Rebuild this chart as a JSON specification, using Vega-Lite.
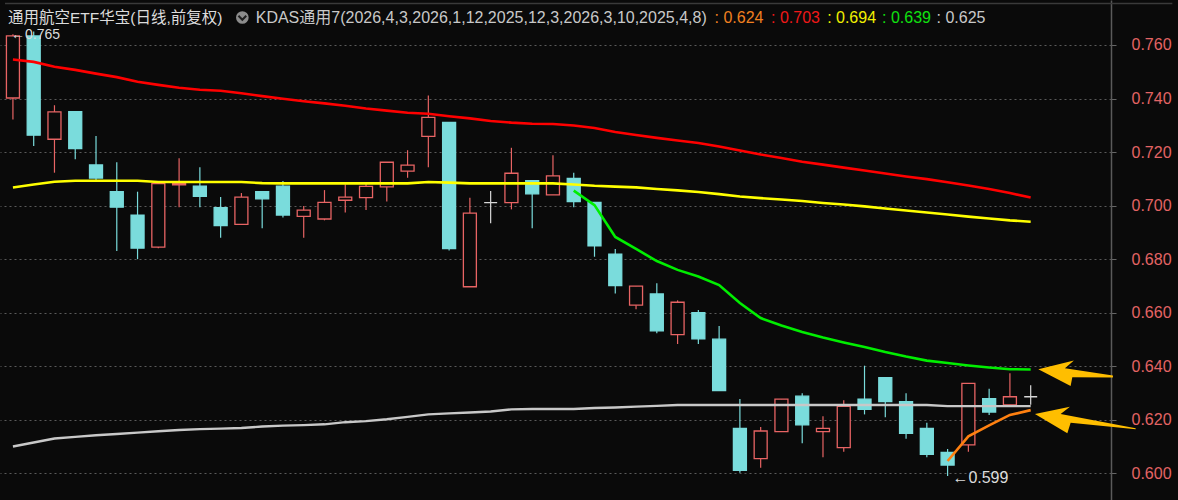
{
  "$schema": "https://vega.github.io/schema/vega-lite/v6.json",
  "width": 1111,
  "height": 500,
  "autosize": {"type": "none"},
  "padding": {"left": 0, "top": 0, "right": 67, "bottom": 0},
  "background": "#0a0a0a",
  "view": {"stroke": null},
  "config": {"font": "'Liberation Sans', 'Noto Sans CJK SC', sans-serif"},
  "data": {"values": [
    {"i":0,"open":0.7402,"high":0.7640,"low":0.7322,"close":0.7634,"v0403":null,"v0112":0.7546,"v1203":0.7068,"v0310":null,"v0408":0.6100},
    {"i":1,"open":0.7634,"high":0.7650,"low":0.7223,"close":0.7263,"v0403":null,"v0112":0.7537,"v1203":0.7079,"v0310":null,"v0408":0.6115},
    {"i":2,"open":0.7248,"high":0.7375,"low":0.7123,"close":0.7350,"v0403":null,"v0112":0.7519,"v1203":0.7089,"v0310":null,"v0408":0.6130},
    {"i":3,"open":0.7351,"high":0.7351,"low":0.7173,"close":0.7213,"v0403":null,"v0112":0.7507,"v1203":0.7093,"v0310":null,"v0408":0.6136},
    {"i":4,"open":0.7152,"high":0.7260,"low":0.7096,"close":0.7103,"v0403":null,"v0112":0.7493,"v1203":0.7093,"v0310":null,"v0408":0.6142},
    {"i":5,"open":0.7052,"high":0.7162,"low":0.6830,"close":0.6994,"v0403":null,"v0112":0.7480,"v1203":0.7093,"v0310":null,"v0408":0.6147},
    {"i":6,"open":0.6964,"high":0.7052,"low":0.6800,"close":0.6841,"v0403":null,"v0112":0.7463,"v1203":0.7093,"v0310":null,"v0408":0.6152},
    {"i":7,"open":0.6845,"high":0.7082,"low":0.6841,"close":0.7082,"v0403":null,"v0112":0.7451,"v1203":0.7088,"v0310":null,"v0408":0.6157},
    {"i":8,"open":0.7078,"high":0.7177,"low":0.6994,"close":0.7083,"v0403":null,"v0112":0.7440,"v1203":0.7088,"v0310":null,"v0408":0.6162},
    {"i":9,"open":0.7073,"high":0.7143,"low":0.6994,"close":0.7035,"v0403":null,"v0112":0.7433,"v1203":0.7088,"v0310":null,"v0408":0.6165},
    {"i":10,"open":0.6992,"high":0.7032,"low":0.6880,"close":0.6925,"v0403":null,"v0112":0.7429,"v1203":0.7088,"v0310":null,"v0408":0.6167},
    {"i":11,"open":0.6930,"high":0.7047,"low":0.6930,"close":0.7032,"v0403":null,"v0112":0.7420,"v1203":0.7088,"v0310":null,"v0408":0.6169},
    {"i":12,"open":0.7052,"high":0.7052,"low":0.6915,"close":0.7025,"v0403":null,"v0112":0.7409,"v1203":0.7084,"v0310":null,"v0408":0.6175},
    {"i":13,"open":0.7073,"high":0.7092,"low":0.6956,"close":0.6965,"v0403":null,"v0112":0.7399,"v1203":0.7083,"v0310":null,"v0408":0.6178},
    {"i":14,"open":0.6960,"high":0.6999,"low":0.6880,"close":0.6983,"v0403":null,"v0112":0.7390,"v1203":0.7083,"v0310":null,"v0408":0.6180},
    {"i":15,"open":0.6950,"high":0.7058,"low":0.6945,"close":0.7012,"v0403":null,"v0112":0.7382,"v1203":0.7083,"v0310":null,"v0408":0.6183},
    {"i":16,"open":0.7020,"high":0.7080,"low":0.6974,"close":0.7032,"v0403":null,"v0112":0.7373,"v1203":0.7083,"v0310":null,"v0408":0.6191},
    {"i":17,"open":0.7030,"high":0.7085,"low":0.6984,"close":0.7072,"v0403":null,"v0112":0.7363,"v1203":0.7083,"v0310":null,"v0408":0.6195},
    {"i":18,"open":0.7070,"high":0.7162,"low":0.7015,"close":0.7162,"v0403":null,"v0112":0.7355,"v1203":0.7083,"v0310":null,"v0408":0.6202},
    {"i":19,"open":0.7129,"high":0.7207,"low":0.7104,"close":0.7151,"v0403":null,"v0112":0.7347,"v1203":0.7083,"v0310":null,"v0408":0.6211},
    {"i":20,"open":0.7259,"high":0.7411,"low":0.7143,"close":0.7330,"v0403":null,"v0112":0.7343,"v1203":0.7088,"v0310":null,"v0408":0.6220},
    {"i":21,"open":0.7311,"high":0.7311,"low":0.6832,"close":0.6839,"v0403":null,"v0112":0.7334,"v1203":0.7086,"v0310":null,"v0408":0.6224},
    {"i":22,"open":0.6697,"high":0.7029,"low":0.6697,"close":0.6972,"v0403":null,"v0112":0.7326,"v1203":0.7083,"v0310":null,"v0408":0.6227},
    {"i":23,"open":0.7011,"high":0.7055,"low":0.6934,"close":0.7011,"v0403":null,"v0112":0.7316,"v1203":0.7083,"v0310":null,"v0408":0.6231},
    {"i":24,"open":0.7011,"high":0.7216,"low":0.6986,"close":0.7121,"v0403":null,"v0112":0.7310,"v1203":0.7083,"v0310":null,"v0408":0.6239},
    {"i":25,"open":0.7093,"high":0.7093,"low":0.6915,"close":0.7044,"v0403":null,"v0112":0.7306,"v1203":0.7083,"v0310":null,"v0408":0.6240},
    {"i":26,"open":0.7040,"high":0.7188,"low":0.7040,"close":0.7111,"v0403":null,"v0112":0.7305,"v1203":0.7083,"v0310":null,"v0408":0.6240},
    {"i":27,"open":0.7102,"high":0.7123,"low":0.6994,"close":0.7015,"v0403":null,"v0112":0.7299,"v1203":0.7079,"v0310":0.7056,"v0408":0.6240},
    {"i":28,"open":0.7012,"high":0.7012,"low":0.6809,"close":0.6850,"v0403":null,"v0112":0.7290,"v1203":0.7074,"v0310":0.7002,"v0408":0.6244},
    {"i":29,"open":0.6819,"high":0.6838,"low":0.6672,"close":0.6701,"v0403":null,"v0112":0.7275,"v1203":0.7071,"v0310":0.6883,"v0408":0.6246},
    {"i":30,"open":0.6628,"high":0.6699,"low":0.6613,"close":0.6699,"v0403":null,"v0112":0.7264,"v1203":0.7068,"v0310":0.6838,"v0408":0.6249},
    {"i":31,"open":0.6670,"high":0.6710,"low":0.6523,"close":0.6532,"v0403":null,"v0112":0.7253,"v1203":0.7062,"v0310":0.6793,"v0408":0.6252},
    {"i":32,"open":0.6518,"high":0.6646,"low":0.6483,"close":0.6639,"v0403":null,"v0112":0.7243,"v1203":0.7057,"v0310":0.6760,"v0408":0.6255},
    {"i":33,"open":0.6600,"high":0.6610,"low":0.6483,"close":0.6502,"v0403":null,"v0112":0.7234,"v1203":0.7051,"v0310":0.6735,"v0408":0.6255},
    {"i":34,"open":0.6501,"high":0.6550,"low":0.6309,"close":0.6309,"v0403":null,"v0112":0.7221,"v1203":0.7043,"v0310":0.6703,"v0408":0.6255},
    {"i":35,"open":0.6168,"high":0.6278,"low":0.6002,"close":0.6011,"v0403":null,"v0112":0.7206,"v1203":0.7034,"v0310":0.6636,"v0408":0.6255},
    {"i":36,"open":0.6055,"high":0.6173,"low":0.6021,"close":0.6158,"v0403":null,"v0112":0.7191,"v1203":0.7028,"v0310":0.6580,"v0408":0.6255},
    {"i":37,"open":0.6156,"high":0.6277,"low":0.6156,"close":0.6277,"v0403":null,"v0112":0.7178,"v1203":0.7023,"v0310":0.6552,"v0408":0.6255},
    {"i":38,"open":0.6288,"high":0.6299,"low":0.6112,"close":0.6181,"v0403":null,"v0112":0.7164,"v1203":0.7017,"v0310":0.6528,"v0408":0.6255},
    {"i":39,"open":0.6156,"high":0.6213,"low":0.6060,"close":0.6168,"v0403":null,"v0112":0.7153,"v1203":0.7010,"v0310":0.6507,"v0408":0.6255},
    {"i":40,"open":0.6096,"high":0.6273,"low":0.6081,"close":0.6250,"v0403":null,"v0112":0.7142,"v1203":0.7004,"v0310":0.6489,"v0408":0.6255},
    {"i":41,"open":0.6277,"high":0.6402,"low":0.6220,"close":0.6239,"v0403":null,"v0112":0.7131,"v1203":0.6997,"v0310":0.6472,"v0408":0.6255},
    {"i":42,"open":0.6357,"high":0.6357,"low":0.6209,"close":0.6268,"v0403":null,"v0112":0.7120,"v1203":0.6989,"v0310":0.6453,"v0408":0.6255},
    {"i":43,"open":0.6268,"high":0.6299,"low":0.6129,"close":0.6149,"v0403":null,"v0112":0.7109,"v1203":0.6982,"v0310":0.6436,"v0408":0.6255},
    {"i":44,"open":0.6168,"high":0.6189,"low":0.6060,"close":0.6071,"v0403":null,"v0112":0.7099,"v1203":0.6974,"v0310":0.6421,"v0408":0.6255},
    {"i":45,"open":0.6078,"high":0.6091,"low":0.5990,"close":0.6031,"v0403":0.6046,"v0112":0.7087,"v1203":0.6967,"v0310":0.6412,"v0408":0.6251},
    {"i":46,"open":0.6106,"high":0.6336,"low":0.6081,"close":0.6336,"v0403":0.6138,"v0112":0.7075,"v1203":0.6959,"v0310":0.6403,"v0408":0.6251},
    {"i":47,"open":0.6279,"high":0.6316,"low":0.6218,"close":0.6229,"v0403":0.6179,"v0112":0.7062,"v1203":0.6952,"v0310":0.6395,"v0408":0.6251},
    {"i":48,"open":0.6256,"high":0.6374,"low":0.6256,"close":0.6286,"v0403":0.6218,"v0112":0.7047,"v1203":0.6945,"v0310":0.6389,"v0408":0.6251},
    {"i":49,"open":0.6286,"high":0.6329,"low":0.6256,"close":0.6286,"v0403":0.6236,"v0112":0.7030,"v1203":0.6940,"v0310":0.6388,"v0408":0.6251}
  ]},
  "layer": [
    {
      "mark": {"type": "rule", "strokeWidth": 1.2},
      "encoding": {
        "x": {"field": "i", "type": "quantitative", "axis": null, "scale": {"domain": [-0.3817, 52.626], "nice": false, "zero": false}},
        "y": {"field": "low", "type": "quantitative", "scale": {"domain": [0.59003, 0.77681], "nice": false, "zero": false},
          "axis": {
            "orient": "right", "title": null,
            "values": [0.60,0.61,0.62,0.63,0.64,0.65,0.66,0.67,0.68,0.69,0.70,0.71,0.72,0.73,0.74,0.75,0.76],
            "format": ".3f",
            "labelExpr": "(round(datum.value*100) % 2 == 0) ? datum.label : ''",
            "labelColor": "#E36464", "labelFont": "Liberation Sans", "labelFontSize": 16, "labelPadding": 15,
            "labelBaseline": "middle", "labelOverlap": false, "labelFlush": false,
            "domainColor": "#5a5a5a", "domainWidth": 1.5,
            "tickColor": "#666666", "tickWidth": 1, "tickSize": 5,
            "grid": true, "gridColor": "#5a5a5a", "gridDash": [2, 3], "gridWidth": 1,
            "gridOpacity": {"condition": {"test": "round(datum.value*100) % 2 == 0", "value": 1}, "value": 0}
          }},
        "y2": {"field": "high"},
        "color": {"condition": [{"test": "datum.close > datum.open", "value": "#E86464"}, {"test": "datum.close < datum.open", "value": "#7ADCDC"}], "value": "#D8D8D8"}
      }
    },
    {
      "mark": {"type": "bar", "width": 13, "strokeWidth": 1.3},
      "encoding": {
        "x": {"field": "i", "type": "quantitative", "axis": null, "scale": {"domain": [-0.3817, 52.626], "nice": false, "zero": false}},
        "y": {"field": "open", "type": "quantitative", "scale": {"domain": [0.59003, 0.77681], "nice": false, "zero": false}},
        "y2": {"field": "close"},
        "stroke": {"condition": [{"test": "datum.close > datum.open", "value": "#E86464"}, {"test": "datum.close < datum.open", "value": "#7ADCDC"}], "value": "#D8D8D8"},
        "fill": {"condition": [{"test": "datum.close > datum.open", "value": "#0a0a0a"}, {"test": "datum.close < datum.open", "value": "#7ADCDC"}], "value": "#D8D8D8"}
      }
    },
    {
      "mark": {"type": "line", "color": "#C8C8C8", "strokeWidth": 2.4},
      "encoding": {
        "x": {"field": "i", "type": "quantitative", "axis": null, "scale": {"domain": [-0.3817, 52.626], "nice": false, "zero": false}},
        "y": {"field": "v0408", "type": "quantitative", "scale": {"domain": [0.59003, 0.77681], "nice": false, "zero": false}}
      }
    },
    {
      "mark": {"type": "line", "color": "#FFFF00", "strokeWidth": 2.6},
      "encoding": {
        "x": {"field": "i", "type": "quantitative", "axis": null, "scale": {"domain": [-0.3817, 52.626], "nice": false, "zero": false}},
        "y": {"field": "v1203", "type": "quantitative", "scale": {"domain": [0.59003, 0.77681], "nice": false, "zero": false}}
      }
    },
    {
      "mark": {"type": "line", "color": "#FF0000", "strokeWidth": 2.6},
      "encoding": {
        "x": {"field": "i", "type": "quantitative", "axis": null, "scale": {"domain": [-0.3817, 52.626], "nice": false, "zero": false}},
        "y": {"field": "v0112", "type": "quantitative", "scale": {"domain": [0.59003, 0.77681], "nice": false, "zero": false}}
      }
    },
    {
      "mark": {"type": "line", "color": "#00EE00", "strokeWidth": 2.6},
      "encoding": {
        "x": {"field": "i", "type": "quantitative", "axis": null, "scale": {"domain": [-0.3817, 52.626], "nice": false, "zero": false}},
        "y": {"field": "v0310", "type": "quantitative", "scale": {"domain": [0.59003, 0.77681], "nice": false, "zero": false}}
      }
    },
    {
      "mark": {"type": "line", "color": "#FF8010", "strokeWidth": 2.6},
      "encoding": {
        "x": {"field": "i", "type": "quantitative", "axis": null, "scale": {"domain": [-0.3817, 52.626], "nice": false, "zero": false}},
        "y": {"field": "v0403", "type": "quantitative", "scale": {"domain": [0.59003, 0.77681], "nice": false, "zero": false}}
      }
    },
    {
      "data": {"values": [{}]},
      "mark": {"type": "text", "text": "←0.765", "align": "left", "baseline": "alphabetic", "fontSize": 14, "color": "#DCDCDC", "font": "Liberation Sans"},
      "encoding": {
        "x": {"datum": -0.095, "type": "quantitative", "axis": null, "scale": {"domain": [-0.3817, 52.626], "nice": false, "zero": false}},
        "y": {"datum": 0.76224, "type": "quantitative", "scale": {"domain": [0.59003, 0.77681], "nice": false, "zero": false}}
      }
    },
    {
      "data": {"values": [{}]},
      "mark": {"type": "rule", "color": "#3a3a3a", "strokeWidth": 1.5},
      "encoding": {
        "x": {"datum": -0.3817, "type": "quantitative", "axis": null, "scale": {"domain": [-0.3817, 52.626], "nice": false, "zero": false}},
        "x2": {"datum": 55.82},
        "y": {"datum": 0.7755, "type": "quantitative", "scale": {"domain": [0.59003, 0.77681], "nice": false, "zero": false}}
      }
    },
    {
      "data": {"values": [{}]},
      "mark": {"type": "text", "text": "通用航空ETF华宝(日线,前复权)", "align": "left", "baseline": "alphabetic", "fontSize": 15.5, "color": "#DCDCDC", "font": "'Liberation Sans', 'Noto Sans CJK SC', sans-serif"},
      "encoding": {
        "x": {"datum": -0.2386, "type": "quantitative", "axis": null, "scale": {"domain": [-0.3817, 52.626], "nice": false, "zero": false}},
        "y": {"datum": 0.768218, "type": "quantitative", "scale": {"domain": [0.59003, 0.77681], "nice": false, "zero": false}}
      }
    },
    {
      "data": {"values": [{}]},
      "mark": {"type": "point", "shape": "circle", "size": 160, "filled": true, "color": "#8C8C8C", "opacity": 1},
      "encoding": {
        "x": {"datum": 11.0452, "type": "quantitative", "axis": null, "scale": {"domain": [-0.3817, 52.626], "nice": false, "zero": false}},
        "y": {"datum": 0.770273, "type": "quantitative", "scale": {"domain": [0.59003, 0.77681], "nice": false, "zero": false}}
      }
    },
    {
      "data": {"values": [{}]},
      "mark": {"type": "point", "shape": "M-0.35,-0.15 L0,0.2 L0.35,-0.15", "size": 500, "filled": false, "stroke": "#202020", "strokeWidth": 2, "opacity": 1},
      "encoding": {
        "x": {"datum": 11.0452, "type": "quantitative", "axis": null, "scale": {"domain": [-0.3817, 52.626], "nice": false, "zero": false}},
        "y": {"datum": 0.770273, "type": "quantitative", "scale": {"domain": [0.59003, 0.77681], "nice": false, "zero": false}}
      }
    },
    {
      "data": {"values": [{}]},
      "mark": {"type": "text", "text": "KDAS通用7(2026,4,3,2026,1,12,2025,12,3,2026,3,10,2025,4,8)", "align": "left", "baseline": "alphabetic", "fontSize": 16, "color": "#C8C8C8", "font": "'Liberation Sans', 'Noto Sans CJK SC', sans-serif"},
      "encoding": {
        "x": {"datum": 11.6894, "type": "quantitative", "axis": null, "scale": {"domain": [-0.3817, 52.626], "nice": false, "zero": false}},
        "y": {"datum": 0.768218, "type": "quantitative", "scale": {"domain": [0.59003, 0.77681], "nice": false, "zero": false}}
      }
    },
    {
      "data": {"values": [{}]},
      "mark": {"type": "text", "text": ": 0.624", "align": "left", "baseline": "alphabetic", "fontSize": 16, "color": "#F08020", "font": "Liberation Sans"},
      "encoding": {
        "x": {"datum": 33.7802, "type": "quantitative", "axis": null, "scale": {"domain": [-0.3817, 52.626], "nice": false, "zero": false}},
        "y": {"datum": 0.768218, "type": "quantitative", "scale": {"domain": [0.59003, 0.77681], "nice": false, "zero": false}}
      }
    },
    {
      "data": {"values": [{}]},
      "mark": {"type": "text", "text": ": 0.703", "align": "left", "baseline": "alphabetic", "fontSize": 16, "color": "#F01818", "font": "Liberation Sans"},
      "encoding": {
        "x": {"datum": 36.5, "type": "quantitative", "axis": null, "scale": {"domain": [-0.3817, 52.626], "nice": false, "zero": false}},
        "y": {"datum": 0.768218, "type": "quantitative", "scale": {"domain": [0.59003, 0.77681], "nice": false, "zero": false}}
      }
    },
    {
      "data": {"values": [{}]},
      "mark": {"type": "text", "text": ": 0.694", "align": "left", "baseline": "alphabetic", "fontSize": 16, "color": "#F0F000", "font": "Liberation Sans"},
      "encoding": {
        "x": {"datum": 39.2, "type": "quantitative", "axis": null, "scale": {"domain": [-0.3817, 52.626], "nice": false, "zero": false}},
        "y": {"datum": 0.768218, "type": "quantitative", "scale": {"domain": [0.59003, 0.77681], "nice": false, "zero": false}}
      }
    },
    {
      "data": {"values": [{}]},
      "mark": {"type": "text", "text": ": 0.639", "align": "left", "baseline": "alphabetic", "fontSize": 16, "color": "#10E010", "font": "Liberation Sans"},
      "encoding": {
        "x": {"datum": 41.8431, "type": "quantitative", "axis": null, "scale": {"domain": [-0.3817, 52.626], "nice": false, "zero": false}},
        "y": {"datum": 0.768218, "type": "quantitative", "scale": {"domain": [0.59003, 0.77681], "nice": false, "zero": false}}
      }
    },
    {
      "data": {"values": [{}]},
      "mark": {"type": "text", "text": ": 0.625", "align": "left", "baseline": "alphabetic", "fontSize": 16, "color": "#C8C8C8", "font": "Liberation Sans"},
      "encoding": {
        "x": {"datum": 44.4672, "type": "quantitative", "axis": null, "scale": {"domain": [-0.3817, 52.626], "nice": false, "zero": false}},
        "y": {"datum": 0.768218, "type": "quantitative", "scale": {"domain": [0.59003, 0.77681], "nice": false, "zero": false}}
      }
    },
    {
      "data": {"values": [{}]},
      "mark": {"type": "text", "text": "←0.599", "align": "left", "baseline": "alphabetic", "fontSize": 16, "color": "#DCDCDC", "font": "Liberation Sans"},
      "encoding": {
        "x": {"datum": 45.23, "type": "quantitative", "axis": null, "scale": {"domain": [-0.3817, 52.626], "nice": false, "zero": false}},
        "y": {"datum": 0.59627, "type": "quantitative", "scale": {"domain": [0.59003, 0.77681], "nice": false, "zero": false}}
      }
    },
    {
      "data": {"values": [{}]},
      "mark": {"type": "point", "shape": "M0,0 L0.712,-0.172 L0.532,-0.02 L1.492,0.126 L1.492,0.166 L0.68,0.16 L0.646,0.334 Z", "size": 10000, "filled": true, "color": "#FFBE00", "opacity": 1, "strokeWidth": 0},
      "encoding": {
        "x": {"datum": 49.3673, "type": "quantitative", "axis": null, "scale": {"domain": [-0.3817, 52.626], "nice": false, "zero": false}},
        "y": {"datum": 0.63889, "type": "quantitative", "scale": {"domain": [0.59003, 0.77681], "nice": false, "zero": false}}
      }
    },
    {
      "data": {"values": [{}]},
      "mark": {"type": "point", "shape": "M0,0 L0.7,-0.146 L0.514,0 L2.014,0.284 L2.014,0.304 L0.714,0.174 L0.648,0.386 Z", "size": 10000, "filled": true, "color": "#FFBE00", "opacity": 1, "strokeWidth": 0},
      "encoding": {
        "x": {"datum": 49.2051, "type": "quantitative", "axis": null, "scale": {"domain": [-0.3817, 52.626], "nice": false, "zero": false}},
        "y": {"datum": 0.62216, "type": "quantitative", "scale": {"domain": [0.59003, 0.77681], "nice": false, "zero": false}}
      }
    }
  ]
}
